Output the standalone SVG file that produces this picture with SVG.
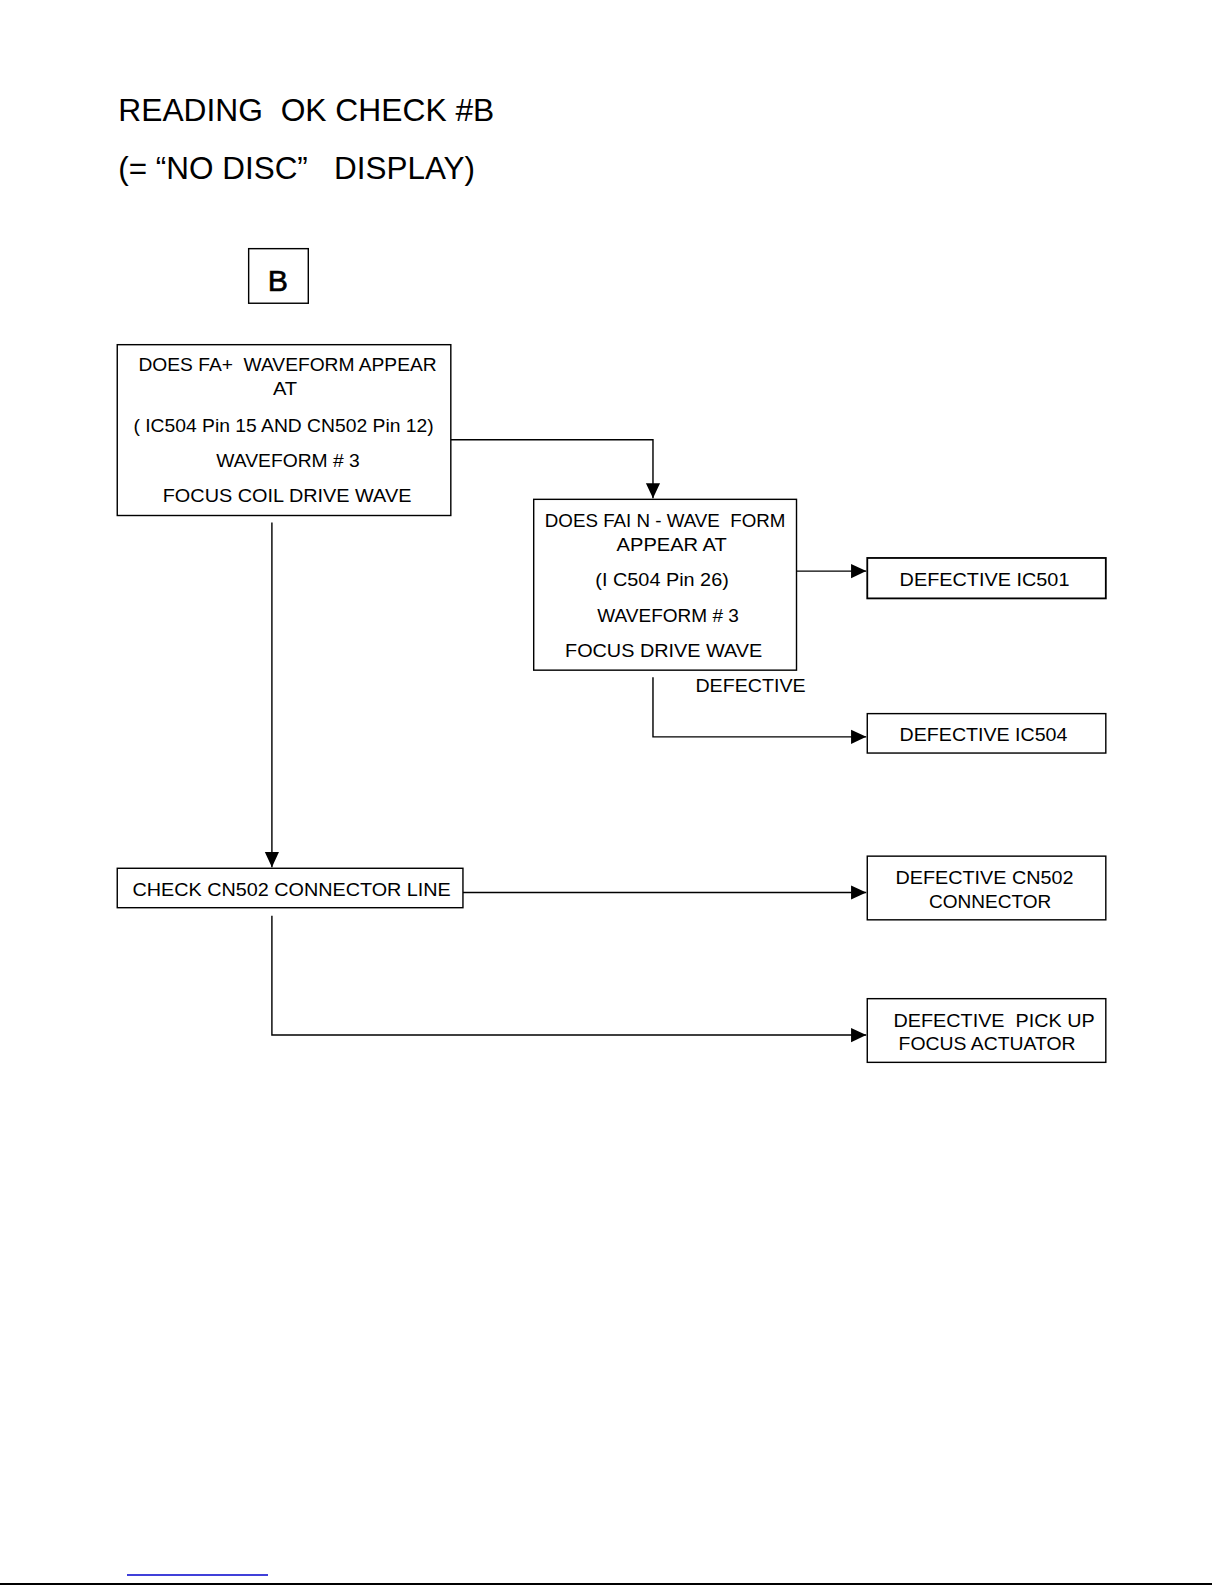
<svg xmlns="http://www.w3.org/2000/svg" width="1225" height="1585" viewBox="0 0 1225 1585" xml:space="preserve">
<defs>
<style>
text{font-family:"Liberation Sans",Arial,sans-serif;fill:#000;white-space:pre;}
.t{font-size:31px;}
.b{font-size:18px;}
.box{fill:#fff;stroke:#000;stroke-width:1.4;}
.ln{fill:none;stroke:#000;stroke-width:1.4;}
</style>
<marker id="arr" markerUnits="userSpaceOnUse" markerWidth="16" markerHeight="16" refX="15" refY="8" orient="auto" viewBox="0 0 16 16">
<path d="M0,1 L15,8 L0,15 Z" fill="#000"/>
</marker>
</defs>
<rect width="1225" height="1585" fill="#fff"/>
<g id="page" transform="scale(1.0108)">
<g id="title">
<text class="t" x="117" y="120" textLength="372" lengthAdjust="spacingAndGlyphs">READING  OK CHECK #B</text>
<text class="t" x="117" y="177" textLength="353" lengthAdjust="spacingAndGlyphs">(= “NO DISC”   DISPLAY)</text>
</g>
<g id="start">
<rect class="box" x="246" y="246" width="59" height="54"/>
<text x="265" y="288" style="font-size:30px;stroke:#000;stroke-width:0.6" textLength="20" lengthAdjust="spacingAndGlyphs">B</text>
</g>
<g id="connectors">
<path class="ln" d="M446,435 H646 V493" marker-end="url(#arr)"/>
<path class="ln" d="M269,517 V858" marker-end="url(#arr)"/>
<path class="ln" d="M788,565 H857" marker-end="url(#arr)"/>
<path class="ln" d="M646,670 V729 H857" marker-end="url(#arr)"/>
<path class="ln" d="M458,883 H857" marker-end="url(#arr)"/>
<path class="ln" d="M269,906 V1024 H857" marker-end="url(#arr)"/>
</g>
<g id="n1">
<rect class="box" x="116" y="341" width="330" height="169"/>
<text class="b" x="137" y="367" textLength="295" lengthAdjust="spacingAndGlyphs">DOES FA+  WAVEFORM APPEAR</text>
<text class="b" x="270" y="391" textLength="24" lengthAdjust="spacingAndGlyphs">AT</text>
<text class="b" x="132" y="427" textLength="297" lengthAdjust="spacingAndGlyphs">( IC504 Pin 15 AND CN502 Pin 12)</text>
<text class="b" x="214" y="462" textLength="142" lengthAdjust="spacingAndGlyphs">WAVEFORM # 3</text>
<text class="b" x="161" y="497" textLength="246" lengthAdjust="spacingAndGlyphs">FOCUS COIL DRIVE WAVE</text>
</g>
<g id="n2">
<rect class="box" x="528" y="494" width="260" height="169"/>
<text class="b" x="539" y="521" textLength="238" lengthAdjust="spacingAndGlyphs">DOES FAI N - WAVE  FORM</text>
<text class="b" x="610" y="545" textLength="109" lengthAdjust="spacingAndGlyphs">APPEAR AT</text>
<text class="b" x="589" y="580" textLength="132" lengthAdjust="spacingAndGlyphs">(I C504 Pin 26)</text>
<text class="b" x="591" y="615" textLength="140" lengthAdjust="spacingAndGlyphs">WAVEFORM # 3</text>
<text class="b" x="559" y="650" textLength="195" lengthAdjust="spacingAndGlyphs">FOCUS DRIVE WAVE</text>
</g>
<g id="lbl-defective">
<text class="b" x="688" y="685" textLength="109" lengthAdjust="spacingAndGlyphs">DEFECTIVE</text>
</g>
<g id="n-ic501">
<rect class="box" x="858" y="552" width="236" height="40" style="stroke-width:1.8"/>
<text class="b" x="890" y="580" textLength="168" lengthAdjust="spacingAndGlyphs">DEFECTIVE IC501</text>
</g>
<g id="n-ic504">
<rect class="box" x="858" y="706" width="236" height="39"/>
<text class="b" x="890" y="733" textLength="166" lengthAdjust="spacingAndGlyphs">DEFECTIVE IC504</text>
</g>
<g id="n3">
<rect class="box" x="116" y="859" width="342" height="39"/>
<text class="b" x="131" y="886" textLength="315" lengthAdjust="spacingAndGlyphs">CHECK CN502 CONNECTOR LINE</text>
</g>
<g id="n-cn502">
<rect class="box" x="858" y="847" width="236" height="63"/>
<text class="b" x="886" y="875" textLength="176" lengthAdjust="spacingAndGlyphs">DEFECTIVE CN502</text>
<text class="b" x="919" y="898" textLength="121" lengthAdjust="spacingAndGlyphs">CONNECTOR</text>
</g>
<g id="n-pickup">
<rect class="box" x="858" y="988" width="236" height="63"/>
<text class="b" x="884" y="1016" textLength="199" lengthAdjust="spacingAndGlyphs">DEFECTIVE  PICK UP</text>
<text class="b" x="889" y="1039" textLength="175" lengthAdjust="spacingAndGlyphs">FOCUS ACTUATOR</text>
</g>
</g>
<g id="footer">
<line x1="127" y1="1575" x2="268" y2="1575" stroke="#0000cc" stroke-width="1.5"/>
<line x1="0" y1="1584" x2="1212" y2="1584" stroke="#000" stroke-width="2"/>
</g>
</svg>
